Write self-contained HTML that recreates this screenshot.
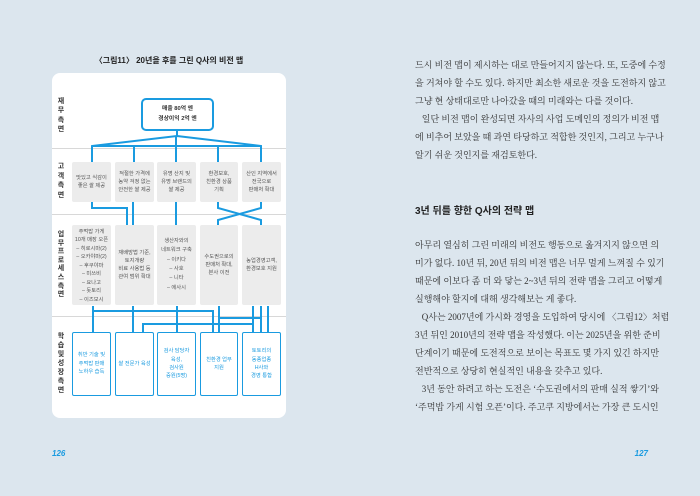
<!DOCTYPE html>
<html><head><meta charset="utf-8"><style>
*{margin:0;padding:0;box-sizing:border-box}
body{width:700px;height:496px;background:#dce6ee;position:relative;overflow:hidden;font-family:"Liberation Sans","Noto Sans CJK KR",sans-serif}
.a{position:absolute}
.panel{left:52px;top:73px;width:234px;height:345px;background:#fff;border-radius:8px}
.sep{left:52px;width:234px;height:1px;background:#d8d8d8}
.lab{left:56px;width:10px;font-size:7px;font-weight:bold;color:#333;text-align:center}
.g{background:#ececec;border-radius:2px;font-size:5.3px;color:#555;line-height:1.55;display:flex;align-items:center;justify-content:center;text-align:center}
.b{background:#fff;border:1.5px solid #1a9be0;border-radius:2px;font-size:5.3px;color:#1a9be0;line-height:1.6;display:flex;align-items:center;justify-content:center;text-align:center}
.t{left:415px;width:233px;font-family:"Liberation Serif","Noto Serif CJK SC","Noto Sans CJK KR",serif;font-size:9px;color:#333;line-height:18px}
.t div{white-space:nowrap;text-align:justify;text-align-last:justify;height:18px;overflow:visible}
.t div.l{text-align-last:left}
.pn{font-size:8px;font-weight:bold;font-style:italic;color:#1a9be0}
</style></head><body>
<div class="a" style="left:52px;top:55px;width:234px;text-align:center;font-size:8px;font-weight:bold;color:#222">〈그림11〉 20년을 후를 그린 Q사의 비전 맵</div>
<div class="a panel"></div>
<div class="a sep" style="top:148px"></div>
<div class="a sep" style="top:214px"></div>
<div class="a sep" style="top:316px"></div>

<div class="a lab" style="top:97px;line-height:9.3px">재<br>무<br>측<br>면</div>
<div class="a lab" style="top:162px;line-height:9.7px">고<br>객<br>측<br>면</div>
<div class="a lab" style="top:231px;line-height:8.6px">업<br>무<br>프<br>로<br>세<br>스<br>측<br>면</div>
<div class="a lab" style="top:332px;line-height:9px">학<br>습<br>및<br>성<br>장<br>측<br>면</div>

<svg class="a" style="left:0;top:0" width="700" height="496">
<g stroke="#1a9be0" stroke-width="2" fill="none">
<path d="M177 131V136L92 146V162M177 136L261 146V162M134 146V162M176 136V162M218 146V162M92 146H261"/>
<path d="M92 202V208H127V225M133 202V225M176 202V225M218 202V208L261 220V225M261 202V208L218 220V225"/>
<path d="M93 306V332M93 311H213V332M133 306V332M177 306V332M219 306V332M143 332V324H253V332M219 318H261M253 306V332M261 306V332M268 306V332"/>
</g></svg>

<div class="a" style="left:141px;top:98px;width:73px;height:33px;border:2px solid #1a9be0;border-radius:5px;background:#fff;font-size:5.8px;font-weight:bold;color:#333;text-align:center;line-height:1.6;display:flex;align-items:center;justify-content:center">매출 80억 엔<br>경상이익 2억 엔</div>

<div class="a g" style="left:72px;top:162px;width:39px;height:40px">맛있고 식감이<br>좋은 쌀 제공</div>
<div class="a g" style="left:115px;top:162px;width:39px;height:40px">적절한 가격에<br>농약 걱정 없는<br>안전한 쌀 제공</div>
<div class="a g" style="left:157px;top:162px;width:39px;height:40px">유명 산지 및<br>유명 브랜드의<br>쌀 제공</div>
<div class="a g" style="left:200px;top:162px;width:38px;height:40px">환경보호,<br>친환경 상품<br>기획</div>
<div class="a g" style="left:242px;top:162px;width:39px;height:40px">산인 지역에서<br>전국으로<br>판매처 확대</div>

<div class="a g" style="left:72px;top:225px;width:39px;height:80px;align-items:flex-start;padding-top:3px;line-height:1.6">주먹밥 가게<br>10개 매장 오픈<br>– 히로시마(2)<br>– 오카야마(2)<br>– 후쿠야마<br>– 미쓰비<br>– 요나고<br>– 돗토리<br>– 이즈모시</div>
<div class="a g" style="left:115px;top:225px;width:39px;height:80px">재배방법 기준,<br>토지개량<br>비료 사용법 등<br>관여 범위 확대</div>
<div class="a g" style="left:157px;top:225px;width:39px;height:80px;line-height:1.75">생산자와의<br>네트워크 구축<br>– 이키다<br>– 사호<br>– 니타<br>– 에사시</div>
<div class="a g" style="left:200px;top:225px;width:38px;height:80px">수도권으로의<br>판매처 확대,<br>본사 이전</div>
<div class="a g" style="left:242px;top:225px;width:39px;height:80px">농업경영고객,<br>환경보호 지원</div>

<div class="a b" style="left:72px;top:332px;width:39px;height:64px">취반 기술 및<br>주먹밥 판매<br>노하우 습득</div>
<div class="a b" style="left:115px;top:332px;width:39px;height:64px">쌀 전문가 육성</div>
<div class="a b" style="left:157px;top:332px;width:39px;height:64px">검사 담당자<br>육성,<br>검사원<br>증원(5명)</div>
<div class="a b" style="left:200px;top:332px;width:38px;height:64px">친환경 업무<br>지원</div>
<div class="a b" style="left:242px;top:332px;width:39px;height:64px">토토리의<br>동종업종<br>H사와<br>경영 통합</div>

<div class="a pn" style="left:52px;top:449px">126</div>
<div class="a pn" style="left:630px;top:449px;width:18px;text-align:right">127</div>

<div class="a t" style="top:56px">
<div>드시 비전 맵이 제시하는 대로 만들어지지 않는다. 또, 도중에 수정</div>
<div>을 거쳐야 할 수도 있다. 하지만 최소한 새로운 것을 도전하지 않고</div>
<div class="l">그냥 현 상태대로만 나아갔을 때의 미래와는 다를 것이다.</div>
<div>&nbsp;&nbsp;&nbsp;일단 비전 맵이 완성되면 자사의 사업 도메인의 정의가 비전 맵</div>
<div>에 비추어 보았을 때 과연 타당하고 적합한 것인지, 그리고 누구나</div>
<div class="l">알기 쉬운 것인지를 재검토한다.</div>
</div>
<div class="a" style="left:415px;top:202px;font-size:10px;font-weight:bold;color:#222">3년 뒤를 향한 Q사의 전략 맵</div>
<div class="a t" style="top:236px">
<div>아무리 열심히 그린 미래의 비전도 행동으로 옮겨지지 않으면 의</div>
<div>미가 없다. 10년 뒤, 20년 뒤의 비전 맵은 너무 멀게 느껴질 수 있기</div>
<div>때문에 이보다 좀 더 와 닿는 2~3년 뒤의 전략 맵을 그리고 어떻게</div>
<div class="l">실행해야 할지에 대해 생각해보는 게 좋다.</div>
<div>&nbsp;&nbsp;&nbsp;Q사는 2007년에 가시화 경영을 도입하여 당시에 〈그림12〉처럼</div>
<div>3년 뒤인 2010년의 전략 맵을 작성했다. 이는 2025년을 위한 준비</div>
<div>단계이기 때문에 도전적으로 보이는 목표도 몇 가지 있긴 하지만</div>
<div class="l">전반적으로 상당히 현실적인 내용을 갖추고 있다.</div>
<div>&nbsp;&nbsp;&nbsp;3년 동안 하려고 하는 도전은 ‘수도권에서의 판매 실적 쌓기’와</div>
<div>‘주먹밥 가게 시험 오픈’이다. 주고쿠 지방에서는 가장 큰 도시인</div>
</div>
</body></html>
